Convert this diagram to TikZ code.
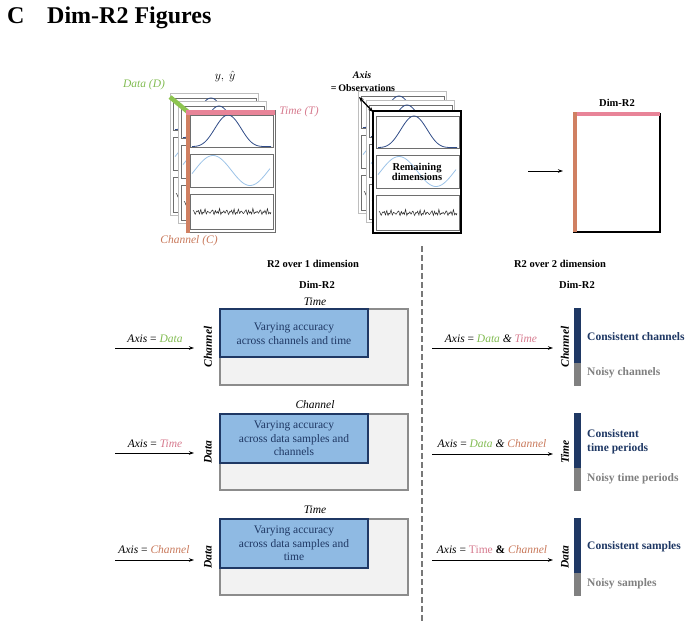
\documentclass[tikz,border=0pt]{standalone}
\usepackage{fontspec}
\setmainfont{Liberation Serif}
\usetikzlibrary{arrows.meta}
\definecolor{cData}{RGB}{141,196,80}
\definecolor{cTime}{RGB}{232,132,152}
\definecolor{cChan}{RGB}{208,128,98}
\definecolor{cDataT}{RGB}{130,188,82}
\definecolor{cTimeT}{RGB}{214,122,142}
\definecolor{cChanT}{RGB}{200,120,90}
\definecolor{cNavy}{RGB}{31,56,100}
\definecolor{cBlueFill}{RGB}{143,186,227}
\definecolor{cGrayBar}{RGB}{128,128,128}
\definecolor{cDash}{RGB}{120,120,120}
\definecolor{cLight}{RGB}{242,242,242}
\definecolor{cRectBorder}{RGB}{140,140,140}
\definecolor{cSigDark}{RGB}{47,75,135}
\definecolor{cSigLight}{RGB}{156,195,232}
\definecolor{cPanel}{RGB}{110,110,110}
\definecolor{cSheet}{RGB}{190,190,190}
\tikzset{
  lab/.style={inner sep=0pt, font=\fontsize{11.5}{13}\selectfont},
  headlab/.style={inner sep=0pt, font=\fontsize{10.5}{12}\selectfont\bfseries},
  boxtext/.style={inner sep=0pt, align=center, text=cNavy, font=\fontsize{11.5}{13.5}\selectfont},
  sidelab/.style={inner sep=0pt, anchor=west, font=\fontsize{11.5}{14}\selectfont\bfseries},
  rotlab/.style={inner sep=0pt, rotate=90, font=\fontsize{11.5}{13}\selectfont\bfseries\itshape},
  panelbox/.style={draw=cPanel, line width=0.7pt},
  backsheet/.style={draw=cSheet, line width=0.8pt},
  frontsheet/.style={draw=cPanel, line width=0.8pt},
  boldsheet/.style={draw=black, line width=1.7pt},
  outerrect/.style={draw=cRectBorder, fill=cLight, line width=1.6pt},
  innerrect/.style={draw=cNavy, fill=cBlueFill, line width=1.4pt},
  axarrow/.style={line width=0.9pt, -{Stealth[length=5pt,width=3.5pt]}},
}
\newcommand{\drawsheet}[3]{%
  \begin{scope}[shift={(#1,#2)}]
    \fill[white] (0,0) rectangle (88,122);
    \draw[panelbox] (3,5) rectangle (86,37);
    \draw[panelbox] (3,44) rectangle (86,77);
    \draw[panelbox] (3,84) rectangle (86,119);
    \draw[cSigDark, line width=0.8pt] plot[domain=5:84, samples=70, smooth] (\x,{36.5-31.5*(0.5+0.5*cos((\x-41)*4.5))*(0.5+0.5*cos((\x-41)*4.5))});
    \draw[cSigLight, line width=0.8pt] plot[domain=5:83, samples=70, smooth] (\x,{60.5-15*sin((\x-7.5)*4.865)});
    \draw[black!85, line width=0.5pt] plot[domain=6:84, samples=130] (\x,{102+1.3*sin(\x*97)+1.0*sin(\x*151+17)+0.8*sin(\x*173+50)+0.7*sin(\x*53+20)});
    \draw[#3] (0,0) rectangle (88,122);
  \end{scope}}
\begin{document}
\begin{tikzpicture}[x=1pt,y=-1pt]
\useasboundingbox (0,0) rectangle (691,624);

% Title
\node[inner sep=0pt, anchor=base west, font=\fontsize{24}{28}\selectfont\bfseries] (tC) at (7,23) {C};
\node[inner sep=0pt, anchor=base west, font=\fontsize{24}{28}\selectfont\bfseries] (tT) at (47,23) {Dim-R2 Figures};

% ---------- Left stack ----------
\drawsheet{170}{93}{backsheet}
\drawsheet{178}{101}{backsheet}
\drawsheet{187}{110}{frontsheet}
\coordinate (g1) at (170,97);
\coordinate (g2) at (188,112);
\draw[cData, line width=4.5pt] (g1) -- (g2);
\coordinate (c1) at (188,111);
\coordinate (c2) at (188,233);
\draw[cChan, line width=4pt] (c1) -- (c2);
\coordinate (p1) at (186,112.5);
\coordinate (p2) at (275,112.5);
\draw[cTime, line width=4.5pt] (p1) -- (p2);
\node[lab, text=cDataT, font=\fontsize{11.5}{13}\selectfont\itshape] (dataD) at (144,85) {Data (D)};
\node[lab, text=cTimeT, font=\fontsize{11.5}{13}\selectfont\itshape] (timeT) at (299,112) {Time (T)};
\node[lab, text=cChanT, font=\fontsize{11.5}{13}\selectfont\itshape] (chanC) at (189,241) {Channel (C)};
\node[lab] (yy) at (225,76) {$y,\ \hat{y}$};

% ---------- Middle stack ----------
\drawsheet{358}{91}{backsheet}
\drawsheet{366}{100}{backsheet}
\drawsheet{373}{111}{boldsheet}
\coordinate (a1) at (359,97);
\coordinate (a2) at (373,112);
\draw[line width=1.3pt, {Stealth[length=5pt,width=4pt]}-{Stealth[length=5pt,width=4pt]}] (a1) -- (a2);
\node[inner sep=0pt, font=\fontsize{10}{12}\selectfont\bfseries\itshape] (axisT) at (362,75) {Axis};
\node[inner sep=0pt, font=\fontsize{10}{12}\selectfont\bfseries] (obsT) at (363,88) {=\,Observations};
\node[inner sep=0pt, align=center, font=\fontsize{10.5}{10}\selectfont\bfseries] (remT) at (417,172) {Remaining\\dimensions};

% ---------- Right Dim-R2 ----------
\node[headlab] (dimTop) at (617,103) {Dim-R2};
\coordinate (r1) at (573,112);
\coordinate (r2) at (660,232);
\fill[white] (r1) rectangle (r2);
\draw[black, line width=1.3pt] (573,232) -- (660,232) -- (660,113);
\draw[cTime, line width=4pt] (573,113.5) -- (660,113.5);
\draw[cChan, line width=4pt] (575,112) -- (575,232);
\coordinate (ta1) at (528,171);
\coordinate (ta2) at (563,171);
\draw[axarrow] (ta1) -- (ta2);

% ---------- Section headings ----------
\node[headlab] (h1) at (313,264) {R2 over 1 dimension};
\node[headlab] (h2) at (560,264) {R2 over 2 dimension};
\coordinate (dl1) at (421.5,246);
\coordinate (dl2) at (421.5,622);
\draw[cDash, line width=2pt, dash pattern=on 6pt off 3pt] (dl1) -- (dl2);
\node[headlab] (dimL) at (317,285) {Dim-R2};
\node[headlab] (dimR) at (577,285) {Dim-R2};

% ---------- Row 1 ----------
\node[lab, font=\fontsize{11.5}{13}\selectfont\itshape] (r1top) at (315,302) {Time};
\draw[outerrect] (220,309) rectangle (408,385);
\draw[innerrect] (220,309) rectangle (368,357);
\node[boxtext] (r1box) at (294,333.5) {Varying accuracy\\across channels and time};
\node[rotlab] (r1rot) at (208,347) {Channel};
\coordinate (l1a) at (115,348);
\coordinate (l1b) at (194,348);
\draw[axarrow] (l1a) -- (l1b);
\node[lab] (l1t) at (155,339) {\textit{Axis} = \textcolor{cDataT}{\textit{Data}}};

\fill[cNavy] (574,308) rectangle (581,363);
\fill[cGrayBar] (574,363) rectangle (581,386);
\node[rotlab] (q1rot) at (565,347) {Channel};
\node[sidelab, text=cNavy] (q1c) at (587,337) {Consistent channels};
\node[sidelab, text=cGrayBar] (q1n) at (587,373) {Noisy channels};
\coordinate (m1a) at (432,348);
\coordinate (m1b) at (553,348);
\draw[axarrow] (m1a) -- (m1b);
\node[lab] (m1t) at (491,339) {\textit{Axis} = \textcolor{cDataT}{\textit{Data}} \textit{\&} \textcolor{cTimeT}{\textit{Time}}};

% ---------- Row 2 ----------
\node[lab, font=\fontsize{11.5}{13}\selectfont\itshape] (r2top) at (315,405) {Channel};
\draw[outerrect] (220,414) rectangle (408,490);
\draw[innerrect] (220,414) rectangle (368,463);
\node[boxtext] (r2box) at (294,438.5) {Varying accuracy\\across data samples and\\channels};
\node[rotlab] (r2rot) at (208,452) {Data};
\coordinate (l2a) at (115,453);
\coordinate (l2b) at (194,453);
\draw[axarrow] (l2a) -- (l2b);
\node[lab] (l2t) at (155,444) {\textit{Axis} = \textcolor{cTimeT}{\textit{Time}}};

\fill[cNavy] (574,413) rectangle (581,468);
\fill[cGrayBar] (574,468) rectangle (581,491);
\node[rotlab] (q2rot) at (565,452) {Time};
\node[sidelab, text=cNavy, align=left] (q2c) at (587,442) {Consistent\\time periods};
\node[sidelab, text=cGrayBar] (q2n) at (587,479) {Noisy time periods};
\coordinate (m2a) at (432,454);
\coordinate (m2b) at (553,454);
\draw[axarrow] (m2a) -- (m2b);
\node[lab] (m2t) at (492,444) {\textit{Axis} = \textcolor{cDataT}{\textit{Data}} \textit{\&} \textcolor{cChanT}{\textit{Channel}}};

% ---------- Row 3 ----------
\node[lab, font=\fontsize{11.5}{13}\selectfont\itshape] (r3top) at (315,510) {Time};
\draw[outerrect] (220,519) rectangle (408,595);
\draw[innerrect] (220,519) rectangle (368,568);
\node[boxtext] (r3box) at (294,543.5) {Varying accuracy\\across data samples and\\time};
\node[rotlab] (r3rot) at (208,557) {Data};
\coordinate (l3a) at (115,560);
\coordinate (l3b) at (194,560);
\draw[axarrow] (l3a) -- (l3b);
\node[lab] (l3t) at (154,550) {\textit{Axis} = \textcolor{cChanT}{\textit{Channel}}};

\fill[cNavy] (574,518) rectangle (581,573);
\fill[cGrayBar] (574,573) rectangle (581,596);
\node[rotlab] (q3rot) at (565,557) {Data};
\node[sidelab, text=cNavy] (q3c) at (587,547) {Consistent samples};
\node[sidelab, text=cGrayBar] (q3n) at (587,584) {Noisy samples};
\coordinate (m3a) at (432,560);
\coordinate (m3b) at (553,560);
\draw[axarrow] (m3a) -- (m3b);
\node[lab] (m3t) at (492,550) {\textit{Axis} = \textcolor{cTimeT}{Time} \textbf{\&} \textcolor{cChanT}{\textit{Channel}}};
\end{tikzpicture}
\end{document}
